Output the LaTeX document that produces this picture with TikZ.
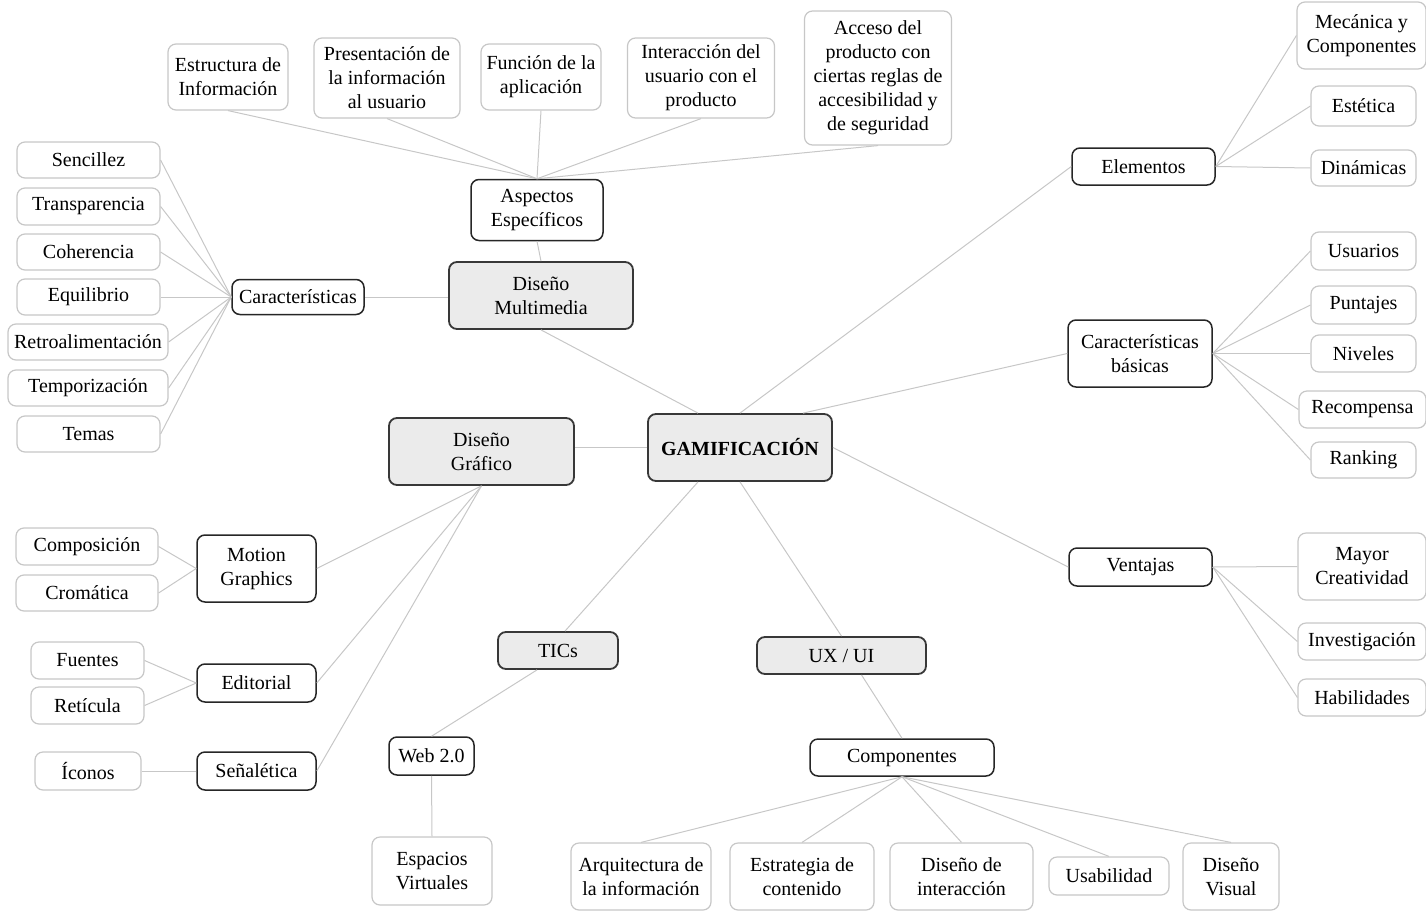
\documentclass[tikz,border=0pt]{standalone}
\usepackage{fontspec}
\setmainfont{Liberation Serif}[Ligatures=TeX]
\newfontfamily\boxfont{Liberation Serif}
\begin{document}
\begin{tikzpicture}[x=1pt,y=-1pt,
  every node/.style={font=\boxfont\fontsize{20}{24}\selectfont, align=center, inner sep=0pt, rounded corners=8pt},
  sz/.style 2 args={minimum width=#1pt, minimum height=#2pt},
  mainbox/.style={draw=black!78, line width=1.8pt, fill=black!8},
  midbox/.style={draw=black!85, line width=1.5pt, fill=white},
  leafbox/.style={draw=black!22, line width=1.2pt, fill=white},
  link/.style={draw=black!22, line width=1pt}]
\useasboundingbox (0,0) rectangle (1426,910);

% --- central topic and main branches
\node[mainbox, sz={184}{67}] (gam) at (740,447.5) {\textbf{GAMIFICACIÓN}};
\node[mainbox, sz={184}{67}] (dm) at (541,295.5) {Diseño\\Multimedia};
\node[mainbox, sz={185}{67}] (dg) at (481.5,451.5) {Diseño\\Gráfico};
\node[mainbox, sz={120}{37}] (tics) at (558,650.5) {TICs};
\node[mainbox, sz={169}{37}] (ux) at (841.5,655.5) {UX / UI};

% --- Diseño Multimedia branch
\node[midbox, sz={132}{61}] (asp) at (537,210) {Aspectos\\Específicos};
\node[leafbox, sz={120}{66}] (est) at (228,77) {Estructura de\\Información};
\node[leafbox, sz={146}{80}] (pres) at (387,78) {Presentación de\\la información\\al usuario};
\node[leafbox, sz={120}{66}] (func) at (541,77) {Función de la\\aplicación};
\node[leafbox, sz={147}{80}] (inter) at (701,78) {Interacción del\\usuario con el\\producto};
\node[leafbox, sz={147}{134}] (acc) at (878,78) {Acceso del\\producto con\\ciertas reglas de\\accesibilidad y\\de seguridad};

\node[midbox, sz={132}{35}] (car) at (298,297) {Características};
\node[leafbox, sz={143}{36}] (sen) at (88.5,160) {Sencillez};
\node[leafbox, sz={143}{37}] (tra) at (88.5,206.5) {Transparencia};
\node[leafbox, sz={143}{36}] (coh) at (88.5,252) {Coherencia};
\node[leafbox, sz={143}{36}] (equ) at (88.5,297) {Equilibrio};
\node[leafbox, sz={160}{36}] (retro) at (88,342) {Retroalimentación};
\node[leafbox, sz={160}{36}] (temp) at (88,388) {Temporización};
\node[leafbox, sz={143}{36}] (tms) at (88.5,434) {Temas};

% --- right side branches
\node[midbox, sz={143}{37}] (elem) at (1143.5,166.5) {Elementos};
\node[leafbox, sz={129}{67}] (mec) at (1361.5,35.5) {Mecánica y\\Componentes};
\node[leafbox, sz={105}{40}] (estet) at (1363.5,106) {Estética};
\node[leafbox, sz={105}{36}] (din) at (1363.5,168) {Dinámicas};

\node[midbox, sz={144}{67}] (cb) at (1140,353.5) {Características\\básicas};
\node[leafbox, sz={105}{38}] (usu) at (1363.5,251) {Usuarios};
\node[leafbox, sz={105}{38}] (pun) at (1363.5,305) {Puntajes};
\node[leafbox, sz={105}{37}] (niv) at (1363.5,353.5) {Niveles};
\node[leafbox, sz={127}{37}] (rec) at (1362.5,409.5) {Recompensa};
\node[leafbox, sz={105}{36}] (ran) at (1363.5,460) {Ranking};

\node[midbox, sz={143}{38}] (ven) at (1140.5,567) {Ventajas};
\node[leafbox, sz={128}{67}] (may) at (1362,566.5) {Mayor\\Creatividad};
\node[leafbox, sz={128}{37}] (inv) at (1362,641.5) {Investigación};
\node[leafbox, sz={128}{37}] (hab) at (1362,697.5) {Habilidades};

% --- Diseño Gráfico branch
\node[midbox, sz={119}{67}] (mg) at (256.5,568.5) {Motion\\Graphics};
\node[leafbox, sz={142}{37}] (compo) at (87,546.5) {Composición};
\node[leafbox, sz={142}{36}] (crom) at (87,593) {Cromática};
\node[midbox, sz={119}{38}] (ed) at (256.5,683) {Editorial};
\node[leafbox, sz={113}{37}] (fue) at (87.5,660.5) {Fuentes};
\node[leafbox, sz={113}{37}] (retic) at (87.5,705.5) {Retícula};
\node[midbox, sz={119}{38}] (sena) at (256.5,771) {Señalética};
\node[leafbox, sz={106}{38}] (ico) at (88,771) {Íconos};

% --- TICs branch
\node[midbox, sz={85}{38}] (web) at (431.5,756) {Web 2.0};
\node[leafbox, sz={120}{68}] (esp) at (432,871) {Espacios\\Virtuales};

% --- UX / UI branch
\node[midbox, sz={184}{37}] (comp) at (902,757.5) {Componentes};
\node[leafbox, sz={140}{67}] (arq) at (641,876.5) {Arquitectura de\\la información};
\node[leafbox, sz={144}{67}] (estr) at (802,876.5) {Estrategia de\\contenido};
\node[leafbox, sz={143}{67}] (dint) at (961.5,876.5) {Diseño de\\interacción};
\node[leafbox, sz={120}{38}] (usa) at (1109,876) {Usabilidad};
\node[leafbox, sz={96}{67}] (dvis) at (1231,876.5) {Diseño\\Visual};

% --- connectors
\path[link] (dm.south) -- ([xshift=-42pt]gam.north);
\path[link] (gam.north) -- (elem.west);
\path[link] ([xshift=63pt]gam.north) -- (cb.west);
\path[link] (gam.east) -- (ven.west);
\path[link] (gam.west) -- (gam.west -| dg.east);
\path[link] ([xshift=-42pt]gam.south) -- ([xshift=7pt]tics.north);
\path[link] (gam.south) -- (ux.north);

\path[link] (asp.south) -- (dm.north);
\foreach \n in {est,pres,func,inter,acc} \path[link] (asp.north) -- (\n.south);
\path[link] (car.east) -- (car.east -| dm.west);
\foreach \n in {sen,tra,coh,equ,retro,temp,tms} \path[link] (car.west) -- (\n.east);

\foreach \n in {mec,estet,din} \path[link] (elem.east) -- (\n.west);
\foreach \n in {usu,pun,niv,rec,ran} \path[link] (cb.east) -- (\n.west);
\foreach \n in {may,inv,hab} \path[link] (ven.east) -- (\n.west);

\foreach \n in {mg,ed,sena} \path[link] (dg.south) -- (\n.east);
\foreach \n in {compo,crom} \path[link] (mg.west) -- (\n.east);
\foreach \n in {fue,retic} \path[link] (ed.west) -- (\n.east);
\path[link] (sena.west) -- (ico.east);

\path[link] ([xshift=-21pt]tics.south) -- (web.north);
\path[link] (web.south) -- (esp.north);

\path[link] ([xshift=20pt]ux.south) -- (comp.north);
\foreach \n in {arq,estr,dint,usa,dvis} \path[link] (comp.south) -- (\n.north);
\end{tikzpicture}
\end{document}
